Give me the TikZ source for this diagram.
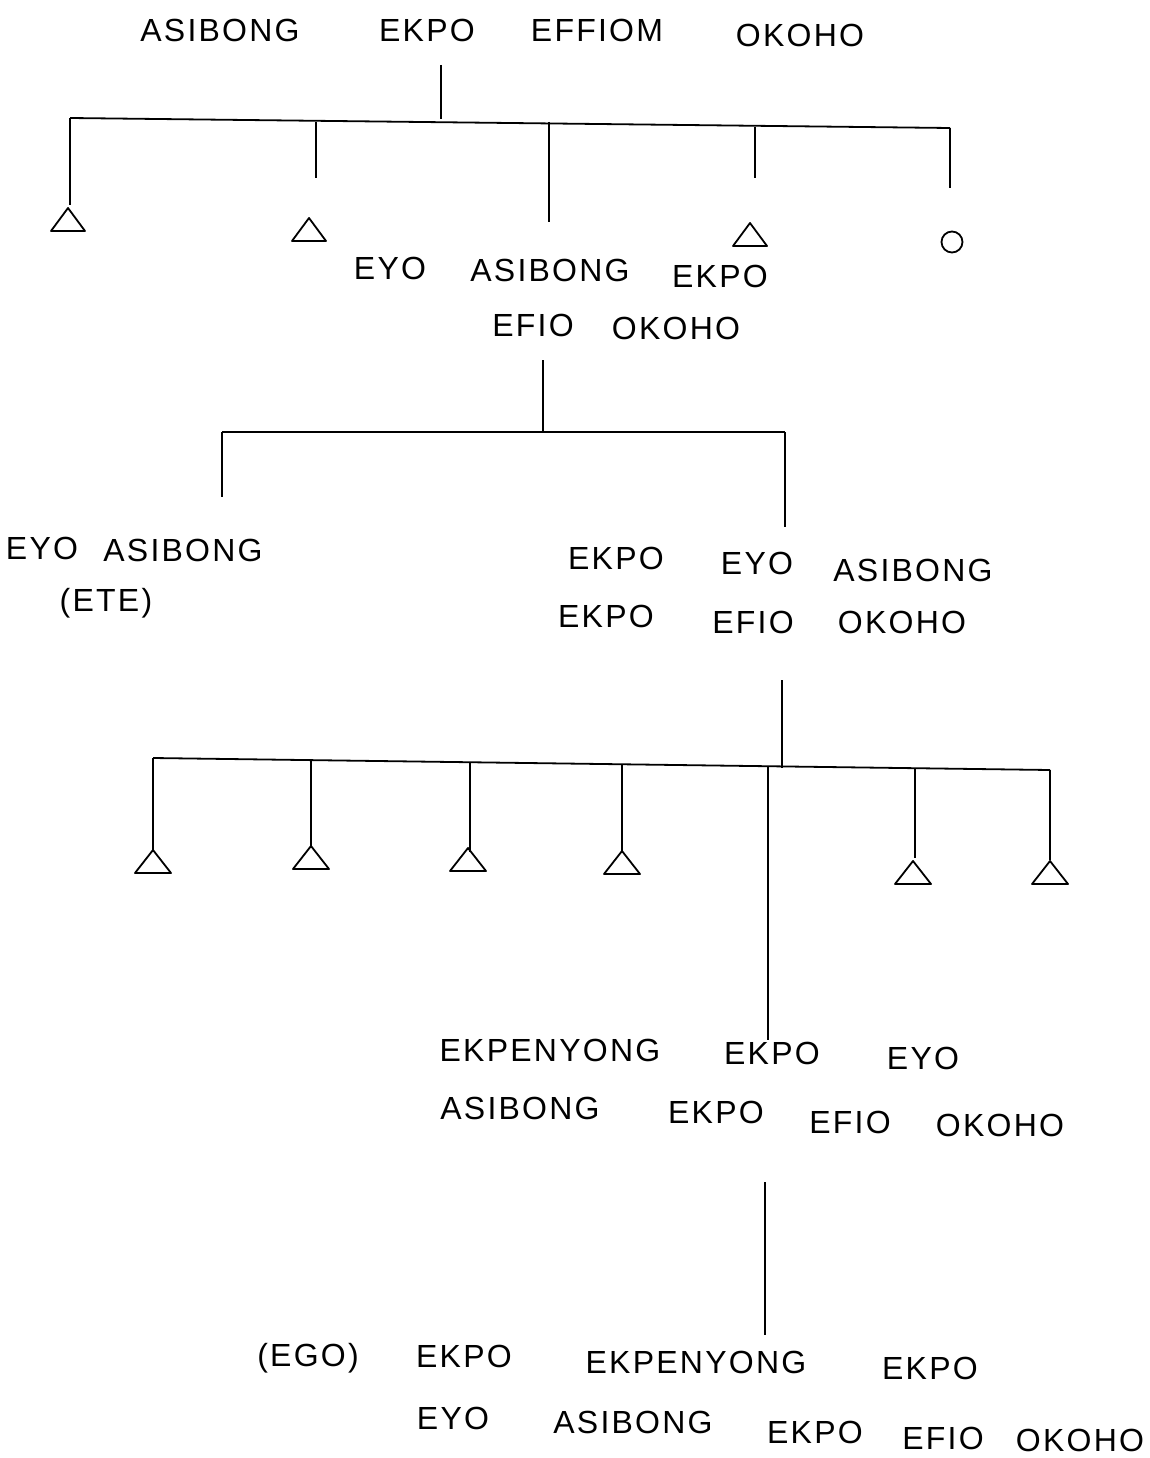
\documentclass[tikz,border=0pt]{standalone}
\usepackage{fontspec}
\setmainfont[LetterSpace=7]{Liberation Sans}
\begin{document}
\begin{tikzpicture}[x=1pt,y=-1pt,
  w/.style={inner sep=0pt,font=\fontsize{32}{38}\selectfont},
  ln/.style={line width=1.8pt},
  tri/.style={line width=1.8pt,line join=round}]
\useasboundingbox (0,0) rectangle (1149,1458);
% ---- generation 1 text
\node[w] (a1) at (220,30) {ASIBONG};
\node[w] (a2) at (427,30) {EKPO};
\node[w] (a3) at (597,30) {EFFIOM};
\node[w] (a4) at (800,35) {OKOHO};
% ---- first sibling bar
\coordinate (p1) at (441,65);
\coordinate (q1) at (441,119);
\coordinate (h1l) at (70,118);
\coordinate (h1r) at (950,128);
\draw[ln] (p1) -- (q1);
\draw[ln] (h1l) -- (h1r);
\coordinate (d1a) at (70,118);  \coordinate (e1a) at (70,205);
\coordinate (d1b) at (316,122); \coordinate (e1b) at (316,178);
\coordinate (d1c) at (549,122); \coordinate (e1c) at (549,222);
\coordinate (d1d) at (755,127); \coordinate (e1d) at (755,178);
\coordinate (d1e) at (950,128); \coordinate (e1e) at (950,188);
\foreach \i in {a,b,c,d,e} \draw[ln] (d1\i) -- (e1\i);
% triangles and circle
\foreach \n/\x/\y in {t1/68/220,t2/309/230,t3/750/235}{
  \coordinate (\n) at (\x,\y);
  \draw[tri] ([shift={(0,-12)}]\n) -- ([shift={(17,11)}]\n) -- ([shift={(-17,11)}]\n) -- cycle;}
\node[draw,circle,line width=1.8pt,minimum size=21pt,inner sep=0pt] (c1) at (952,242) {};
% ---- generation 2 text
\node[w] (b1) at (390,268) {EYO};
\node[w] (b2) at (550,270) {ASIBONG};
\node[w] (b3) at (720,276) {EKPO};
\node[w] (b4) at (533,325) {EFIO};
\node[w] (b5) at (676,328) {OKOHO};
% second bar
\coordinate (p2) at (543,360);
\coordinate (q2) at (543,432);
\coordinate (h2l) at (222,432);
\coordinate (h2r) at (785,432);
\draw[ln] (p2) -- (q2);
\draw[ln] (h2l) -- (h2r);
\coordinate (e2a) at (222,497);
\coordinate (e2b) at (785,527);
\draw[ln] (h2l) -- (e2a);
\draw[ln] (h2r) -- (e2b);
% ---- generation 3 text
\node[w] (c3a) at (42,548) {EYO};
\node[w] (c3b) at (183,550) {ASIBONG};
\node[w] (c3c) at (106,603) {(ETE)};
\node[w] (d3a) at (616,558) {EKPO};
\node[w] (d3b) at (757,563) {EYO};
\node[w] (d3c) at (913,570) {ASIBONG};
\node[w] (d3d) at (606,616) {EKPO};
\node[w] (d3e) at (753,622) {EFIO};
\node[w] (d3f) at (902,622) {OKOHO};
% third bar
\coordinate (p3) at (782,680);
\coordinate (q3) at (782,768);
\coordinate (h3l) at (153,758);
\coordinate (h3r) at (1050,770);
\draw[ln] (p3) -- (q3);
\draw[ln] (h3l) -- (h3r);
\coordinate (d3s1) at (153,758);  \coordinate (e3s1) at (153,852);
\coordinate (d3s2) at (311,761);  \coordinate (e3s2) at (311,846);
\coordinate (d3s3) at (470,763);  \coordinate (e3s3) at (470,852);
\coordinate (d3s4) at (622,765);  \coordinate (e3s4) at (622,852);
\coordinate (d3s5) at (768,767);  \coordinate (e3s5) at (768,1040);
\coordinate (d3s6) at (915,769);  \coordinate (e3s6) at (915,858);
\coordinate (d3s7) at (1050,770); \coordinate (e3s7) at (1050,860);
\foreach \i in {1,...,7} \draw[ln] (d3s\i) -- (e3s\i);
\foreach \n/\x/\y in {u1/153/862,u2/311/858,u3/468/860,u4/622/863,u5/913/873,u6/1050/873}{
  \coordinate (\n) at (\x,\y);
  \draw[tri] ([shift={(0,-12)}]\n) -- ([shift={(18,11)}]\n) -- ([shift={(-18,11)}]\n) -- cycle;}
% ---- generation 4 text
\node[w] (f4a) at (550,1050) {EKPENYONG};
\node[w] (f4b) at (772,1053) {EKPO};
\node[w] (f4c) at (923,1058) {EYO};
\node[w] (f4d) at (520,1108) {ASIBONG};
\node[w] (f4e) at (716,1112) {EKPO};
\node[w] (f4f) at (850,1122) {EFIO};
\node[w] (f4g) at (1000,1125) {OKOHO};
\coordinate (p4) at (765,1182);
\coordinate (q4) at (765,1335);
\draw[ln] (p4) -- (q4);
% ---- generation 5 text
\node[w] (g5a) at (308,1358) {(EGO)};
\node[w] (g5b) at (464,1356) {EKPO};
\node[w] (g5c) at (696,1362) {EKPENYONG};
\node[w] (g5d) at (930,1368) {EKPO};
\node[w] (g5e) at (453,1418) {EYO};
\node[w] (g5f) at (633,1422) {ASIBONG};
\node[w] (g5g) at (815,1432) {EKPO};
\node[w] (g5h) at (943,1438) {EFIO};
\node[w] (g5i) at (1080,1440) {OKOHO};
\end{tikzpicture}
\end{document}
